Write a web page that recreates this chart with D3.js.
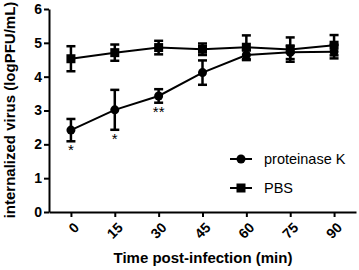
<!DOCTYPE html>
<html>
<head>
<meta charset="utf-8">
<script src="https://cdn.jsdelivr.net/npm/d3@7"></script>
<style>
  body { margin: 0; background: #fff; }
  svg { font-family: "Liberation Sans", Arial, sans-serif; }
</style>
</head>
<body>
<div id="chart"></div>
<script>
const times = [0, 15, 30, 45, 60, 75, 90];
const protK = [2.42, 3.02, 3.43, 4.12, 4.64, 4.72, 4.74];
const protKErr = [0.33, 0.59, 0.2, 0.36, 0.15, 0.2, 0.2];
const pbs = [4.53, 4.71, 4.86, 4.81, 4.87, 4.8, 4.93];
const pbsErr = [0.37, 0.24, 0.2, 0.17, 0.35, 0.36, 0.3];
const stars = ["*", "*", "**", "", "", "", ""];
const yTicks = [0, 1, 2, 3, 4, 5, 6];

const w = 359, h = 270;
const svg = d3.select("#chart").append("svg").attr("width", w).attr("height", h);

const x = d3.scaleLinear().domain([-7.5, 97.5]).range([49, 356]);
const y = d3.scaleLinear().domain([0, 6]).range([212, 9]);

// axes
const yAxis = svg.append("g")
    .attr("transform", "translate(49,0)")
    .call(d3.axisLeft(y).tickValues(yTicks).tickFormat(d3.format("d")).tickSize(5).tickSizeOuter(0));
const xAxis = svg.append("g")
    .attr("transform", "translate(0,212)")
    .call(d3.axisBottom(x).tickValues(times).tickSize(5).tickSizeOuter(0));

[xAxis, yAxis].forEach(g => {
    g.select(".domain").attr("stroke", "#000").attr("stroke-width", 2);
    g.selectAll(".tick line").attr("stroke", "#000").attr("stroke-width", 2);
    g.selectAll(".tick text").attr("fill", "#000").attr("font-weight", "bold")
        .attr("font-size", 14).attr("font-family", "Liberation Sans, Arial, sans-serif");
});
yAxis.selectAll(".tick text").attr("x", -7);
xAxis.selectAll(".tick text")
    .attr("text-anchor", "end")
    .attr("x", 0).attr("y", 0).attr("dy", "0.35em")
    .attr("transform", "translate(5,13) rotate(-45)");

// axis titles
svg.append("text")
    .attr("transform", "translate(15,110) rotate(-90)")
    .attr("text-anchor", "middle")
    .attr("font-weight", "bold").attr("font-size", 15)
    .text("internalized virus (logPFU/mL)");
svg.append("text")
    .attr("x", 203).attr("y", 263)
    .attr("text-anchor", "middle")
    .attr("font-weight", "bold").attr("font-size", 15)
    .text("Time post-infection (min)");

const line = d3.line().x((d, i) => x(times[i])).y(d => y(d));

function drawSeries(vals, errs, shape) {
    const g = svg.append("g");
    g.append("path").datum(vals)
        .attr("fill", "none").attr("stroke", "#000").attr("stroke-width", 2)
        .attr("d", line);
    vals.forEach((v, i) => {
        const cx = x(times[i]);
        g.append("line").attr("x1", cx).attr("x2", cx)
            .attr("y1", y(v - errs[i])).attr("y2", y(v + errs[i]))
            .attr("stroke", "#000").attr("stroke-width", 2.5);
        [v - errs[i], v + errs[i]].forEach(e => {
            g.append("line").attr("x1", cx - 4.5).attr("x2", cx + 4.5)
                .attr("y1", y(e)).attr("y2", y(e))
                .attr("stroke", "#000").attr("stroke-width", 2.5);
        });
        if (shape === "circle") {
            g.append("circle").attr("cx", cx).attr("cy", y(v)).attr("r", 4.5).attr("fill", "#000");
        } else {
            g.append("rect").attr("x", cx - 4.5).attr("y", y(v) - 4.5)
                .attr("width", 9).attr("height", 9).attr("fill", "#000");
        }
    });
}
drawSeries(pbs, pbsErr, "square");
drawSeries(protK, protKErr, "circle");

// significance stars
svg.selectAll(".star").data(stars).join("text")
    .attr("x", (d, i) => x(times[i]))
    .attr("y", (d, i) => y(protK[i] - protKErr[i]) + 14)
    .attr("text-anchor", "middle").attr("font-size", 15)
    .text(d => d);

// legend
const legend = [["proteinase K", "circle"], ["PBS", "square"]];
legend.forEach((l, i) => {
    const ly = 159 + i * 29;
    svg.append("line").attr("x1", 230).attr("x2", 252).attr("y1", ly).attr("y2", ly)
        .attr("stroke", "#000").attr("stroke-width", 2);
    if (l[1] === "circle") {
        svg.append("circle").attr("cx", 241).attr("cy", ly).attr("r", 4.5).attr("fill", "#000");
    } else {
        svg.append("rect").attr("x", 236.5).attr("y", ly - 4.5).attr("width", 9).attr("height", 9).attr("fill", "#000");
    }
    svg.append("text").attr("x", 264).attr("y", ly + 5).attr("font-size", 14.5).text(l[0]);
});
</script>
</body>
</html>
